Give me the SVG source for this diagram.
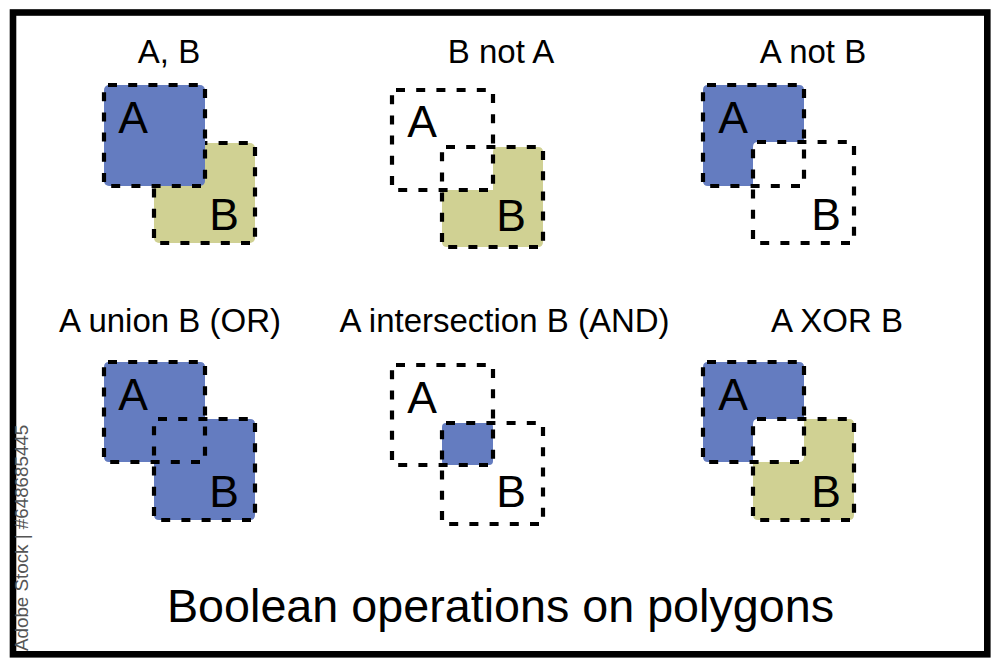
<svg xmlns="http://www.w3.org/2000/svg" width="1000" height="667" viewBox="0 0 1000 667">
<style>
.a{fill:#647cc0}.b{fill:#d0d193}
.d{fill:none;stroke:#000;stroke-width:4.2;stroke-dasharray:9 11.2;stroke-dashoffset:-4}
text{font-family:"Liberation Sans",Arial,sans-serif;fill:#000}
.t{font-size:33px;text-anchor:middle}
.l{font-size:44.5px;text-anchor:middle}
.w{font-size:18.8px;fill:#555}
</style>
<rect width="1000" height="667" fill="#fff"/>
<rect x="13" y="12.500" width="974.300" height="641.800" fill="none" stroke="#000" stroke-width="6.600"/>
<text class="w" transform="translate(28 651) rotate(-90)">Adobe Stock | #648685445</text>

<g id="panel-a-b">
<rect class="b" x="154" y="143" width="101" height="100" rx="5"/>
<rect class="d" x="154" y="143" width="101" height="100"/>
<rect class="a" x="104" y="85" width="101" height="101" rx="5"/>
<rect class="d" x="104" y="85" width="101" height="101"/>
<text class="t" x="169" y="63">A, B</text>
<text class="l" x="133" y="133">A</text>
<text class="l" x="224" y="230">B</text>
</g>

<g id="panel-b-not-a">
<path class="b" d="M498 147H538Q543 147 543 152V242Q543 247 538 247H447Q442 247 442 242V190H493V152Q493 147 498 147Z"/>
<rect class="d" x="392" y="90" width="101" height="100"/>
<rect class="d" x="442" y="147" width="101" height="100"/>
<text class="t" x="501" y="63">B not A</text>
<text class="l" x="422" y="137">A</text>
<text class="l" x="511" y="231">B</text>
</g>

<g id="panel-a-not-b">
<path class="a" d="M708 85H799Q804 85 804 90V142H758Q753 142 753 147V186H708Q703 186 703 181V90Q703 85 708 85Z"/>
<rect class="d" x="703" y="85" width="101" height="101"/>
<rect class="d" x="753" y="142" width="101" height="101"/>
<text class="t" x="813" y="63">A not B</text>
<text class="l" x="733" y="133">A</text>
<text class="l" x="826" y="230">B</text>
</g>

<g id="panel-union">
<path class="a" d="M109 362H200Q205 362 205 367V419H250Q255 419 255 424V515Q255 520 250 520H159Q154 520 154 515V462H109Q104 462 104 457V367Q104 362 109 362Z"/>
<rect class="d" x="104" y="362" width="101" height="100"/>
<rect class="d" x="154" y="419" width="101" height="101"/>
<text class="t" x="170" y="332">A union B (OR)</text>
<text class="l" x="133" y="410">A</text>
<text class="l" x="224" y="507">B</text>
</g>

<g id="panel-intersection">
<rect class="a" x="442" y="423" width="51" height="42" rx="4"/>
<rect class="d" x="392" y="365" width="101" height="100"/>
<rect class="d" x="442" y="423" width="101" height="101"/>
<text class="t" x="504.500" y="332">A intersection B (AND)</text>
<text class="l" x="422" y="413">A</text>
<text class="l" x="511" y="507">B</text>
</g>

<g id="panel-xor">
<path class="a" d="M708 362H799Q804 362 804 367V419H758Q753 419 753 424V462H708Q703 462 703 457V367Q703 362 708 362Z"/>
<path class="b" d="M804 419H849Q854 419 854 424V515Q854 520 849 520H758Q753 520 753 515V462H799Q804 462 804 457Z"/>
<rect class="d" x="703" y="362" width="101" height="100"/>
<rect class="d" x="753" y="419" width="101" height="101"/>
<text class="t" x="837" y="332">A XOR B</text>
<text class="l" x="733" y="410">A</text>
<text class="l" x="826" y="507">B</text>
</g>

<text x="500.500" y="622" font-size="46.700" text-anchor="middle">Boolean operations on polygons</text>
</svg>
